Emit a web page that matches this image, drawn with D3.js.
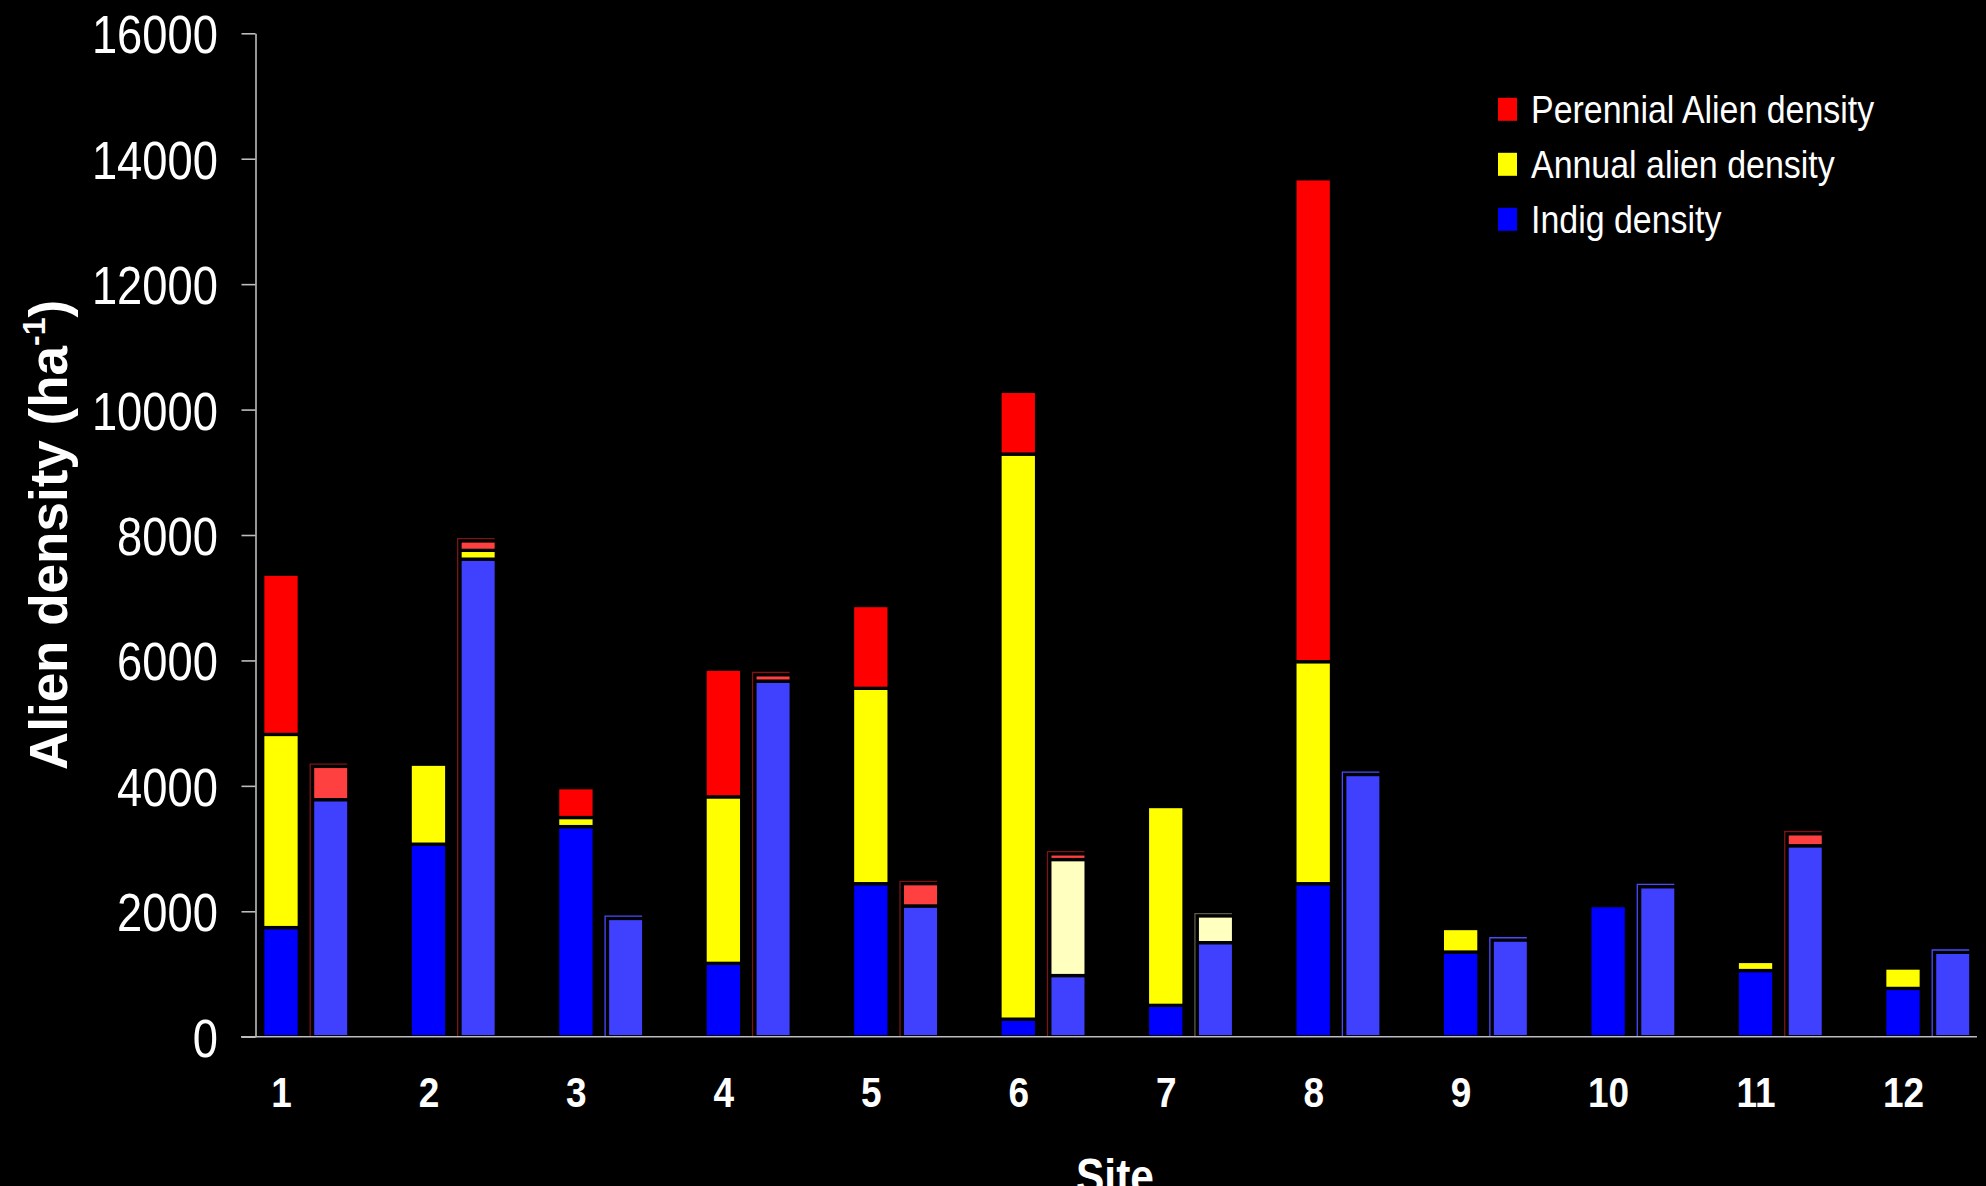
<!DOCTYPE html>
<html>
<head>
<meta charset="utf-8">
<script src="https://cdn.jsdelivr.net/npm/d3@7"></script>
<style>
  html, body { margin: 0; padding: 0; background: #000; overflow: hidden; }
  text { font-family: "Liberation Sans", Arial, Helvetica, sans-serif; fill: #fff; }
</style>
</head>
<body>
<svg id="chart" width="1986" height="1186"></svg>
<script>
// ---------------- DATA ----------------
const sites = ["1","2","3","4","5","6","7","8","9","10","11","12"];
// first (dark) bar per site
const indigA     = [1740, 3070, 3350, 1170, 2440,  280,  500, 2440, 1350, 2090, 1055,  770];
const annualA    = [3080, 1275,  145, 2655, 3115, 9010, 3170, 3540,  375,    0,  145,  325];
const perennialA = [2555,    0,  475, 2035, 1320, 1000,    0, 7700,    0,    0,    0,    0];
// second (light) bar per site
const indigB     = [3780, 7615, 1885, 5670, 2085,  975, 1500, 4180, 1540, 2390, 3045, 1345];
const annualB    = [   0,  140,    0,    0,    0, 1850,  425,    0,    0,    0,    0,    0];
const perennialB = [ 530,  150,    0,  100,  355,   90,    0,    0,    0,    0,  190,    0];
const yTicks = [0, 2000, 4000, 6000, 8000, 10000, 12000, 14000, 16000];
const legendLabels = ["Perennial Alien density", "Annual alien density", "Indig density"];
const yTitle = "Alien density (ha";
const ySup = "-1";
const xTitle = "Site";

// ---------------- STYLE ----------------
const W = 1986, H = 1186;
const darkColors  = { indig: "#0000FF", annual: "#FFFF00", perennial: "#FF0000" };
const lightColors = { indig: "#4040FF", annual: "#FFFF00", perennial: "#FF4040" };
const paleAnnual = "#FFFFC0";
const paleAnnualSites = new Set(["6", "7"]);
const outlineColors = { indig: "#4a4aff", annual: "#5a5a48", perennial: "#7a1515" };
const SW = 3.3;           // black separator stroke
const squeeze = 0.85;     // horizontal text compression seen in the reference

const svg = d3.select("#chart");
svg.append("rect").attr("width", W).attr("height", H).attr("fill", "#000");

const y = d3.scaleLinear().domain([0, 16000]).range([1036.7, 33.3]);
const x = d3.scalePoint().domain(sites).range([281, 1903]);
const darkW = 36.6, lightW = 36.3, lightOff = 49.7;

const keys = ["indig", "annual", "perennial"];
const tableA = sites.map((s, i) => ({ site: s, indig: indigA[i], annual: annualA[i], perennial: perennialA[i] }));
const tableB = sites.map((s, i) => ({ site: s, indig: indigB[i], annual: annualB[i], perennial: perennialB[i] }));
const stack = d3.stack().keys(keys);
const sA = stack(tableA), sB = stack(tableB);

const gBars = svg.append("g");

// dark bars
sA.forEach(layer => {
  gBars.append("g").selectAll("rect")
    .data(layer.filter(d => d[1] - d[0] > 0))
    .join("rect")
    .attr("x", d => x(d.data.site) - darkW / 2)
    .attr("width", darkW)
    .attr("y", d => y(d[1]))
    .attr("height", d => y(d[0]) - y(d[1]))
    .attr("fill", darkColors[layer.key])
    .attr("stroke", "#000")
    .attr("stroke-width", SW);
});

// light bars
sB.forEach(layer => {
  gBars.append("g").selectAll("rect")
    .data(layer.filter(d => d[1] - d[0] > 0))
    .join("rect")
    .attr("x", d => x(d.data.site) + lightOff - lightW / 2)
    .attr("width", lightW)
    .attr("y", d => y(d[1]))
    .attr("height", d => y(d[0]) - y(d[1]))
    .attr("fill", d => (layer.key === "annual" && paleAnnualSites.has(d.data.site)) ? paleAnnual : lightColors[layer.key])
    .attr("stroke", "#000")
    .attr("stroke-width", SW);
});

// thin offset outline on light bars (left + top edge)
gBars.append("g").selectAll("path")
  .data(tableB)
  .join("path")
  .attr("fill", "none")
  .attr("stroke-width", 1.3)
  .attr("stroke", d => {
    const top = [...keys].reverse().find(k => d[k] > 0);
    return outlineColors[top];
  })
  .attr("d", d => {
    const total = d.indig + d.annual + d.perennial;
    const left = x(d.site) + lightOff - lightW / 2 - SW / 2 - 0.7;
    const right = x(d.site) + lightOff + lightW / 2 - SW / 2;
    const top = y(total) - SW / 2 - 0.7;
    return `M${left},${y(0)}V${top}H${right}`;
  });

// ---------------- AXES ----------------
const axisColor = "#bdbdbd";
const gy = svg.append("g").attr("transform", "translate(255.5,0)")
  .call(d3.axisLeft(y).tickValues(yTicks).tickSize(14).tickSizeOuter(0).tickFormat(d3.format("d")));
gy.select(".domain").attr("stroke", axisColor).attr("stroke-width", 1.6);
gy.selectAll(".tick line").attr("stroke", axisColor).attr("stroke-width", 1.6);
gy.selectAll(".tick text")
  .attr("x", -37.5 / 0.84)
  .attr("dy", "0.36em")
  .attr("transform", "scale(0.84,1)")
  .attr("text-anchor", "end")
  .attr("fill", "#fff")
  .style("font-size", "54px")
  .style("font-family", "'Liberation Sans', Arial, sans-serif");

// x axis line
svg.append("line")
  .attr("x1", 241).attr("x2", 1977)
  .attr("y1", y(0)).attr("y2", y(0))
  .attr("stroke", axisColor).attr("stroke-width", 1.6);

const gx = svg.append("g").attr("transform", `translate(0,${y(0)})`)
  .call(d3.axisBottom(x).tickSize(0).tickPadding(0));
gx.select(".domain").remove();
gx.selectAll(".tick text")
  .attr("y", 0).attr("dy", 0)
  .attr("transform", `translate(0,${1107 - y(0)}) scale(0.86,1)`)
  .attr("text-anchor", "middle")
  .attr("fill", "#fff")
  .style("font-size", "43px")
  .style("font-weight", "bold")
  .style("font-family", "'Liberation Sans', Arial, sans-serif");

// axis titles
const yt = svg.append("text")
  .attr("transform", "translate(67,535) rotate(-90)")
  .attr("text-anchor", "middle")
  .style("font-size", "53px")
  .style("font-weight", "bold");
yt.append("tspan").text(yTitle);
yt.append("tspan").attr("dy", -22).style("font-size", "32px").text(ySup);
yt.append("tspan").attr("dy", 22).text(")");

// x title (clipped by the bottom edge, as in the reference)
svg.append("text")
  .attr("transform", `translate(1115,1194) scale(${squeeze},1)`)
  .attr("text-anchor", "middle")
  .style("font-size", "50px")
  .style("font-weight", "bold")
  .text(xTitle);

// ---------------- LEGEND ----------------
const legendKeys = ["perennial", "annual", "indig"];
const leg = svg.append("g").selectAll("g")
  .data(legendKeys)
  .join("g")
  .attr("transform", (d, i) => `translate(1498,${123.3 + i * 55})`);
leg.append("rect")
  .attr("x", 0).attr("y", -25.5).attr("width", 19).attr("height", 23)
  .attr("fill", d => darkColors[d]);
leg.append("text")
  .attr("transform", "translate(33,0) scale(0.87,1)")
  .style("font-size", "39px")
  .text((d, i) => legendLabels[i]);
</script>
</body>
</html>
